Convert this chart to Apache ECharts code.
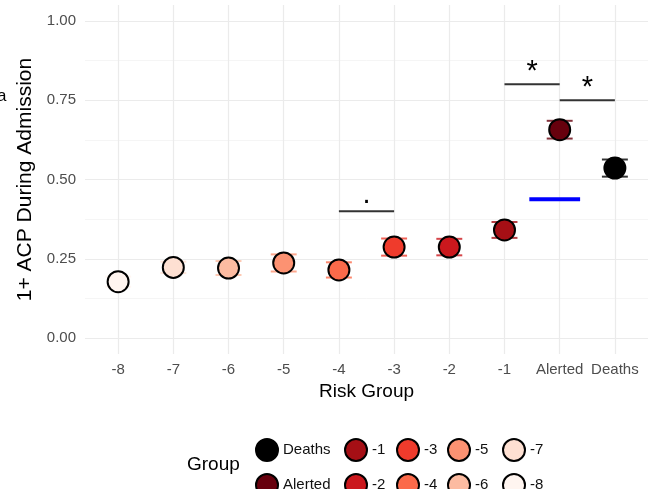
<!DOCTYPE html>
<html>
<head>
<meta charset="utf-8">
<script src="https://cdn.jsdelivr.net/npm/echarts@6/dist/echarts.min.js"></script>
<style>
  html, body { margin: 0; padding: 0; background: #ffffff; }
  #chart { width: 655px; height: 489px; }
</style>
</head>
<body>
<div id="chart"></div>
<script>
// Risk groups on the x axis, in plotting order
const groups = ['-8', '-7', '-6', '-5', '-4', '-3', '-2', '-1', 'Alerted', 'Deaths'];
// Proportion with 1+ ACP during admission, and its standard error
const acpRate = [0.178, 0.223, 0.221, 0.237, 0.215, 0.287, 0.287, 0.341, 0.657, 0.536];
const acpErr = [0.016, 0.018, 0.022, 0.027, 0.024, 0.027, 0.026, 0.025, 0.028, 0.027];
// Fill colour per group
const groupColors = ['#FFF5F0', '#FEE0D2', '#FCBBA1', '#FC9272', '#FB6A4A',
                     '#EF3B2C', '#CB181D', '#A50F15', '#67000D', '#000000'];
// Y axis ticks
const yTicks = [0, 0.25, 0.5, 0.75, 1];
const yMinorTicks = [0.125, 0.375, 0.625, 0.875];
// Significance brackets between pairs of groups
const bracketFrom = ['-4', '-1', 'Alerted'];
const bracketTo = ['-3', 'Alerted', 'Deaths'];
const bracketY = [0.40, 0.80, 0.75];
const bracketMark = ['.', '*', '*'];
// Reference segment: [x start, x end, y]
const refSegment = [8.45, 9.37, 0.438];
// Legend layout: two entries per column
const legendColumns = [['Deaths', 'Alerted'], ['-1', '-2'], ['-3', '-4'], ['-5', '-6'], ['-7', '-8']];
const legendColumnLeft = [255, 344, 396, 447, 502];

const FONT = '"Liberation Sans", Arial, Helvetica, sans-serif';
const positions = groups.map((g, i) => i + 1);
const posOf = g => groups.indexOf(g) + 1;

const chart = echarts.init(document.getElementById('chart'), null, { renderer: 'canvas' });

// One scatter series per group so the legend shows every group
const pointSeries = groups.map((g, i) => ({
  name: g,
  type: 'scatter',
  data: [[positions[i], acpRate[i]]],
  symbol: 'circle',
  symbolSize: 21,
  itemStyle: { color: groupColors[i], borderColor: '#000000', borderWidth: 2, opacity: 1 },
  z: 4,
  silent: true
}));

const errorSeries = {
  type: 'custom',
  silent: true,
  z: 3,
  data: groups.map((g, i) => [positions[i], acpRate[i] - acpErr[i], acpRate[i] + acpErr[i], i]),
  renderItem: function (params, api) {
    const x = api.value(0), lo = api.value(1), hi = api.value(2), idx = api.value(3);
    const capHalf = 0.235;
    const pLo = api.coord([x, lo]), pHi = api.coord([x, hi]);
    const pLoL = api.coord([x - capHalf, lo]), pLoR = api.coord([x + capHalf, lo]);
    const pHiL = api.coord([x - capHalf, hi]), pHiR = api.coord([x + capHalf, hi]);
    const style = { stroke: groupColors[idx], lineWidth: 2, opacity: 0.8 };
    return {
      type: 'group',
      children: [
        { type: 'line', shape: { x1: pLo[0], y1: pLo[1], x2: pHi[0], y2: pHi[1] }, style },
        { type: 'line', shape: { x1: pLoL[0], y1: pLoL[1], x2: pLoR[0], y2: pLoR[1] }, style },
        { type: 'line', shape: { x1: pHiL[0], y1: pHiL[1], x2: pHiR[0], y2: pHiR[1] }, style }
      ]
    };
  }
};

const bracketSeries = {
  type: 'custom',
  silent: true,
  z: 5,
  data: bracketY.map((y, i) => [posOf(bracketFrom[i]), posOf(bracketTo[i]), y, i]),
  renderItem: function (params, api) {
    const a = api.coord([api.value(0), api.value(2)]);
    const b = api.coord([api.value(1), api.value(2)]);
    const mark = bracketMark[api.value(3)];
    const isDot = mark === '.';
    return {
      type: 'group',
      children: [
        { type: 'line', shape: { x1: a[0], y1: a[1], x2: b[0], y2: b[1] },
          style: { stroke: '#333333', lineWidth: 2 } },
        { type: 'text',
          style: {
            text: mark, x: (a[0] + b[0]) / 2, y: a[1] - (isDot ? 2 : 12),
            fontSize: 29, fontFamily: FONT, fill: '#000000',
            align: 'center', verticalAlign: isDot ? 'bottom' : 'middle'
          } }
      ]
    };
  }
};

const refSeries = {
  type: 'line',
  silent: true,
  z: 5,
  data: [[refSegment[0], refSegment[2]], [refSegment[1], refSegment[2]]],
  symbol: 'none',
  lineStyle: { color: '#0000FF', width: 4, cap: 'butt' }
};

const legends = legendColumns.map((col, i) => ({
  orient: 'vertical',
  left: legendColumnLeft[i],
  top: 438,
  height: 80,
  padding: 0,
  itemWidth: 22,
  itemHeight: 22,
  itemGap: 11,
  icon: 'circle',
  selectedMode: false,
  data: col,
  textStyle: { fontFamily: FONT, fontSize: 15, color: '#111111' }
}));

chart.setOption({
  backgroundColor: '#ffffff',
  animation: false,
  grid: { left: 85, right: 7, top: 5, bottom: 135, containLabel: false },
  legend: legends,
  xAxis: {
    type: 'value',
    min: 0.4,
    max: 10.6,
    name: 'Risk Group',
    nameLocation: 'middle',
    nameGap: 28,
    nameTextStyle: { fontFamily: FONT, fontSize: 19, color: '#000000' },
    axisLine: { show: false },
    axisTick: { show: false, customValues: positions },
    axisLabel: {
      customValues: positions,
      formatter: v => groups[Math.round(v) - 1],
      fontFamily: FONT, fontSize: 15, color: '#4D4D4D', margin: 8
    },
    splitLine: { show: true, lineStyle: { color: '#EBEBEB', width: 1.2 } }
  },
  yAxis: [
    {
      type: 'value',
      min: -0.05,
      max: 1.05,
      name: '1+ ACP During Admission',
      nameLocation: 'middle',
      nameGap: 49,
      nameRotate: 90,
      nameTextStyle: { fontFamily: FONT, fontSize: 21, color: '#000000' },
      axisLine: { show: false },
      axisTick: { show: false, customValues: yTicks },
      axisLabel: {
        customValues: yTicks,
        formatter: v => v.toFixed(2),
        fontFamily: FONT, fontSize: 15, color: '#4D4D4D', margin: 9
      },
      splitLine: { show: true, lineStyle: { color: '#EBEBEB', width: 1.2 } }
    },
    {
      type: 'value',
      min: -0.05,
      max: 1.05,
      axisLine: { show: false },
      axisTick: { show: false, customValues: yMinorTicks },
      axisLabel: { show: false, customValues: yMinorTicks },
      splitLine: { show: true, lineStyle: { color: '#F2F2F2', width: 0.8 } }
    }
  ],
  graphic: [
    { type: 'text', left: 187, top: 455,
      style: { text: 'Group', fontFamily: FONT, fontSize: 19, fill: '#000000' } },
    { type: 'text', left: -3, top: 88,
      style: { text: 'a', fontFamily: FONT, fontSize: 17, fill: '#000000' } }
  ],
  series: [errorSeries, ...pointSeries, bracketSeries, refSeries]
});
</script>
</body>
</html>
